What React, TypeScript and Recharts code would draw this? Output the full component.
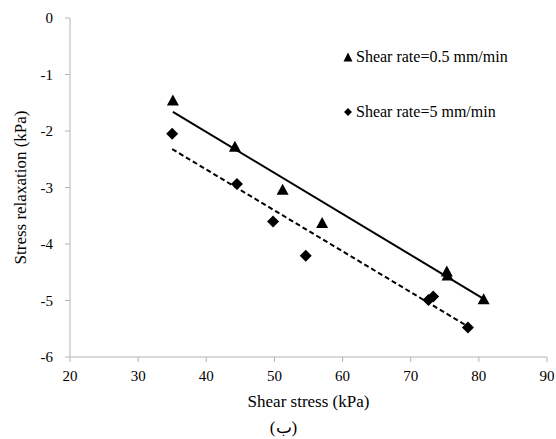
import { ScatterChart, Scatter, XAxis, YAxis, Legend, Label } from 'recharts';

const slowX = [35.1, 44.2, 51.2, 57.0, 75.3, 75.4, 80.7];
const slowY = [-1.45, -2.27, -3.03, -3.62, -4.48, -4.55, -4.97];

const fastX = [35.0, 44.5, 49.8, 54.6, 72.6, 73.3, 78.4];
const fastY = [-2.05, -2.94, -3.6, -4.21, -4.99, -4.93, -5.48];

// trendline end points
const slowTrendX = [35.1, 80.7];
const slowTrendY = [-1.66, -4.97];
const fastTrendX = [35.0, 78.4];
const fastTrendY = [-2.32, -5.46];

const xTicks = [20, 30, 40, 50, 60, 70, 80, 90];
const yTicks = [-6, -5, -4, -3, -2, -1, 0];

const seriesNames = ['Shear rate=0.5 mm/min', 'Shear rate=5 mm/min'];

const toPoints = (xs: number[], ys: number[]) => xs.map((x, i) => ({ x, y: ys[i] }));

const slowData = toPoints(slowX, slowY);
const fastData = toPoints(fastX, fastY);
const slowTrend = toPoints(slowTrendX, slowTrendY);
const fastTrend = toPoints(fastTrendX, fastTrendY);

const FONT = "'Liberation Serif', 'Times New Roman', serif";
const AXIS = '#b4b4b4';

const Triangle = (props: any) => {
  const { cx, cy } = props;
  return <polygon points={`${cx},${cy - 5.5} ${cx + 6},${cy + 5.5} ${cx - 6},${cy + 5.5}`} fill="#000" />;
};

const Diamond = (props: any) => {
  const { cx, cy } = props;
  return <polygon points={`${cx},${cy - 6} ${cx + 6},${cy} ${cx},${cy + 6} ${cx - 6},${cy}`} fill="#000" />;
};

const NoDot = () => <g />;

const renderLegend = () => (
  <div style={{ position: 'relative', width: 200, height: 80, fontFamily: FONT, fontSize: 16, color: '#000' }}>
    <div style={{ position: 'absolute', left: 0, top: 0, height: 20, display: 'flex', alignItems: 'center' }}>
      <svg width={10} height={10} style={{ marginRight: 3 }}>
        <polygon points="5,0.5 9.5,9.5 0.5,9.5" fill="#000" />
      </svg>
      <span>{seriesNames[0]}</span>
    </div>
    <div style={{ position: 'absolute', left: 0, top: 55, height: 20, display: 'flex', alignItems: 'center' }}>
      <svg width={10} height={10} style={{ marginRight: 3 }}>
        <polygon points="5,1 9,5 5,9 1,5" fill="#000" />
      </svg>
      <span>{seriesNames[1]}</span>
    </div>
  </div>
);

const xTitle = (props: any) => {
  const { viewBox } = props;
  const cx = viewBox.x + viewBox.width / 2;
  return (
    <g fontFamily={FONT} fill="#000">
      <text x={cx} y={viewBox.y + 50} textAnchor="middle" fontSize={17}>
        Shear stress (kPa)
      </text>
      <text x={cx - 25} y={viewBox.y + 76} textAnchor="middle" fontSize={17}>
        (ب)
      </text>
    </g>
  );
};

export default function App() {
  return (
    <div style={{ position: 'absolute', left: 0, top: 0, background: '#fff' }}>
      <ScatterChart width={556} height={439} margin={{ top: 18, right: 9, bottom: 0, left: 0 }} style={{ fontFamily: FONT }}>
        <XAxis
          dataKey="x"
          type="number"
          domain={[20, 90]}
          ticks={xTicks}
          height={82}
          stroke={AXIS}
          tickSize={5}
          tickMargin={8}
          tick={{ fill: '#000', fontSize: 15, fontFamily: FONT }}
        >
          <Label content={xTitle} />
        </XAxis>
        <XAxis xAxisId="top" orientation="top" type="number" domain={[20, 90]} height={0} tick={false} tickLine={false} stroke={AXIS} />
        <YAxis
          dataKey="y"
          type="number"
          domain={[-6, 0]}
          ticks={yTicks}
          width={70}
          stroke={AXIS}
          tickSize={5}
          tickMargin={12}
          tick={{ fill: '#000', fontSize: 15, fontFamily: FONT }}
        >
          <Label
            value="Stress relaxation (kPa)"
            angle={-90}
            position="center"
            dx={-15}
            style={{ fontFamily: FONT, fontSize: 17, fill: '#000', textAnchor: 'middle' }}
          />
        </YAxis>
        <YAxis yAxisId="right" orientation="right" type="number" domain={[-6, 0]} width={0} tick={false} tickLine={false} stroke={AXIS} />
        <Legend
          content={renderLegend}
          layout="vertical"
          align="center"
          verticalAlign="middle"
          wrapperStyle={{ left: 343, top: 47, width: 200 }}
        />
        <Scatter data={slowTrend} line={{ stroke: '#000', strokeWidth: 2 }} shape={NoDot} legendType="none" isAnimationActive={false} />
        <Scatter data={fastTrend} line={{ stroke: '#000', strokeWidth: 2, strokeDasharray: '5 3' }} shape={NoDot} legendType="none" isAnimationActive={false} />
        <Scatter name={seriesNames[0]} data={slowData} shape={Triangle} isAnimationActive={false} />
        <Scatter name={seriesNames[1]} data={fastData} shape={Diamond} isAnimationActive={false} />
      </ScatterChart>
    </div>
  );
}
